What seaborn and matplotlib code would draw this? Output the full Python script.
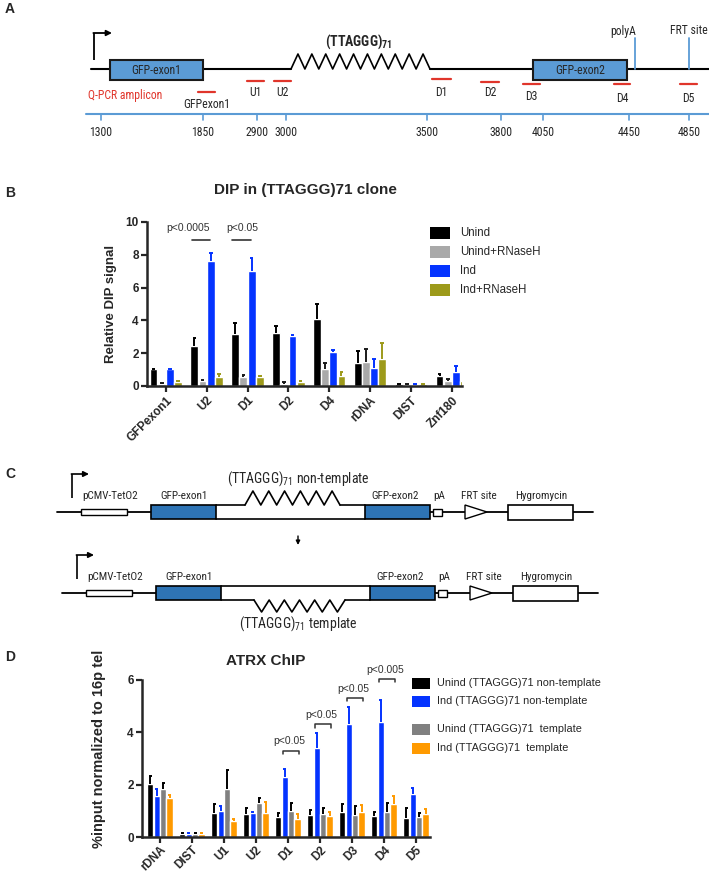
import matplotlib
matplotlib.use("Agg")
import matplotlib.pyplot as plt
from matplotlib import font_manager
from matplotlib.font_manager import FontProperties
from matplotlib.patches import Rectangle, Polygon
import numpy as np
import pandas as pd
import seaborn as sns

W, H = 709, 873

# ---------------- panel B : DIP in (TTAGGG)71 clone ----------------
DIP_SITES = ['GFPexon1', 'U2', 'D1', 'D2', 'D4', 'rDNA', 'DIST', 'Znf180']
DIP_GROUPS = ['Unind', 'Unind+RNaseH', 'Ind', 'Ind+RNaseH']
DIP_COLORS = ['#000000', '#a9a9a9', '#0433ff', '#9d9a1a']
DIP_ERR_COLORS = ['#000000', '#1a1a1a', '#0433ff', '#9d9a1a']
DIP_UNIND = [1.02, 2.45, 3.18, 3.25, 4.10, 1.40, 0.10, 0.60]
DIP_UNIND_SD = [0.02, 0.45, 0.67, 0.40, 0.90, 0.75, 0.02, 0.12]
DIP_UNIND_RH = [0.15, 0.30, 0.55, 0.12, 1.05, 1.45, 0.08, 0.30]
DIP_UNIND_RH_SD = [0.06, 0.05, 0.15, 0.13, 0.35, 0.80, 0.02, 0.15]
DIP_IND = [1.02, 7.62, 7.00, 3.05, 2.05, 1.07, 0.08, 0.85]
DIP_IND_SD = [0.02, 0.50, 0.80, 0.06, 0.12, 0.60, 0.02, 0.40]
DIP_IND_RH = [0.27, 0.57, 0.55, 0.27, 0.58, 1.65, 0.10, 0.30]
DIP_IND_RH_SD = [0.04, 0.15, 0.05, 0.04, 0.27, 0.97, 0.02, 0.20]
DIP_PVALS = ['p<0.0005', 'p<0.05']
DIP_PVAL_SITES = ['U2', 'D1']

# ---------------- panel D : ATRX ChIP ----------------
CHIP_SITES = ['rDNA', 'DIST', 'U1', 'U2', 'D1', 'D2', 'D3', 'D4', 'D5']
CHIP_GROUPS = ['Unind (TTAGGG)71 non-template', 'Ind (TTAGGG)71 non-template',
               'Unind (TTAGGG)71  template', 'Ind (TTAGGG)71  template']
CHIP_COLORS = ['#000000', '#0433ff', '#808080', '#ff9a00']
CHIP_ERR_COLORS = ['#000000', '#0433ff', '#000000', '#ff9a00']
CHIP_UNIND_NT = [2.02, 0.12, 0.93, 0.88, 0.75, 0.85, 0.95, 0.82, 0.74]
CHIP_UNIND_NT_SD = [0.30, 0.03, 0.34, 0.22, 0.15, 0.20, 0.30, 0.15, 0.38]
CHIP_IND_NT = [1.55, 0.13, 1.00, 0.90, 2.30, 3.40, 4.30, 4.40, 1.63]
CHIP_IND_NT_SD = [0.28, 0.02, 0.20, 0.07, 0.30, 0.57, 0.65, 0.83, 0.25]
CHIP_UNIND_T = [1.82, 0.10, 1.85, 1.30, 1.00, 0.87, 0.85, 0.95, 0.76]
CHIP_UNIND_T_SD = [0.23, 0.04, 0.72, 0.20, 0.30, 0.23, 0.35, 0.35, 0.17]
CHIP_IND_T = [1.50, 0.12, 0.62, 0.90, 0.70, 0.80, 0.95, 1.25, 0.87]
CHIP_IND_T_SD = [0.12, 0.02, 0.06, 0.43, 0.17, 0.17, 0.27, 0.33, 0.19]
CHIP_PVALS = ['p<0.05', 'p<0.05', 'p<0.05', 'p<0.005']
CHIP_PVAL_SITES = ['D1', 'D2', 'D3', 'D4']
CHIP_PVAL_LEVEL = [3.3, 4.3, 5.3, 6.03]

# ---------------- panel A : reporter map ----------------
MAP_TICKS = ['1300', '1850', '2900', '3000', '3500', '3800', '4050', '4450', '4850']
MAP_TICK_X = [101, 203, 257, 286, 427, 501, 543, 629, 689]
AMPLICONS = ['GFPexon1', 'U1', 'U2', 'D1', 'D2', 'D3', 'D4', 'D5']
AMP_X = [(198, 215), (247, 264), (274, 291), (432, 451), (481, 499), (523, 540), (614, 630), (680, 697)]
AMP_Y = [92, 81, 81, 79, 82, 84, 84, 84]
AMP_LABEL_Y = [105, 93, 93, 93, 93, 96, 98, 98]

sns.set_theme(style='ticks')
plt.rcParams['font.family'] = ['Liberation Sans', 'DejaVu Sans']


# condensed face for the schematic labels (Arial Narrow look), if one is installed
def find_narrow(bold):
    prefer = ['Liberation Sans Narrow', 'Roboto Condensed', 'DejaVu Sans Condensed',
              'Open Sans Condensed', 'Noto Sans', 'DejaVu Sans']
    found = {}
    for f in font_manager.fontManager.ttflist:
        narrow = ('Narrow' in f.name or 'Condensed' in f.name
                  or f.stretch in ('condensed', 'semi-condensed'))
        if not narrow or f.style != 'normal':
            continue
        w = f.weight if isinstance(f.weight, int) else (700 if 'bold' in str(f.weight) else 400)
        if (w >= 600) != bold:
            continue
        found.setdefault(f.name, f.fname)
    for p in prefer:
        if p in found:
            return found[p]
    return None


NARROW_FILE = find_narrow(False)
NARROW_BOLD_FILE = find_narrow(True)


def nfont(size, bold=False):
    fname = NARROW_BOLD_FILE if bold else NARROW_FILE
    if fname:
        return dict(fontproperties=FontProperties(fname=fname, size=size))
    return dict(family='Liberation Sans', fontsize=size * 0.92,
                fontweight='bold' if bold else 'normal')


fig = plt.figure(figsize=(W / 100, H / 100), dpi=100)
ov = fig.add_axes([0, 0, 1, 1])
ov.set_xlim(0, W)
ov.set_ylim(H, 0)
ov.axis('off')


def px_axes(left, top, right, bottom):
    ax = fig.add_axes([left / W, 1 - bottom / H, (right - left) / W, (bottom - top) / H])
    ax.set_facecolor('none')
    return ax


def arrow_right(x, y0, y1, x1, lw=1.3):
    ov.plot([x, x], [y0, y1], color='black', lw=lw, solid_capstyle='butt')
    ov.annotate('', xy=(x1, y1), xytext=(x - lw / 2, y1),
                arrowprops=dict(arrowstyle='-|>', color='black', lw=lw,
                                mutation_scale=8, shrinkA=0, shrinkB=0))


def zigzag(x0, x1, base, tip, n):
    xs = np.linspace(x0, x1, 2 * n + 1)
    ys = [base if i % 2 == 0 else tip for i in range(2 * n + 1)]
    ov.plot(xs, ys, color='black', lw=1.2, zorder=4)


# ======================= panel A =======================
ov.text(5, 9, 'A', fontsize=10, fontweight='bold', va='center')
LINE_Y = 69
ov.plot([91, 291], [LINE_Y] * 2, color='black', lw=1.5)
ov.plot([430, 709], [LINE_Y] * 2, color='black', lw=1.5)
zigzag(291, 430, LINE_Y, 54, 10)
arrow_right(94, 60, 33, 112)
for x0, x1, lab in [(110, 203, 'GFP-exon1'), (533, 627, 'GFP-exon2')]:
    ov.add_patch(Rectangle((x0, 60), x1 - x0, 20, fc='#5b9bd5', ec='#1a1a1a', lw=1.5, zorder=3))
    ov.text((x0 + x1) / 2, 70, lab, ha='center', va='center', zorder=5, **nfont(8.5))
ov.text(359, 42, r'(TTAGGG)$\mathregular{_{71}}$', ha='center', va='center', **nfont(10, True))
for x in [635, 689]:
    ov.plot([x, x], [38, LINE_Y], color='#5b9bd5', lw=1.3)
for x, lab in [(623, 'polyA'), (689, 'FRT site')]:
    ov.text(x, 31, lab, ha='center', va='center', **nfont(8.5))
for (x0, x1), y, ly, lab in zip(AMP_X, AMP_Y, AMP_LABEL_Y, AMPLICONS):
    ov.plot([x0, x1], [y, y], color='#e0352b', lw=1.6)
    ov.text((x0 + x1) / 2, ly, lab, ha='center', va='center', **nfont(8.5))
ov.text(125, 96, 'Q-PCR amplicon', color='#e0352b', ha='center', va='center', **nfont(8.5))
ov.plot([86, 709], [114, 114], color='#5b9bd5', lw=1.5)
for x, lab in zip(MAP_TICK_X, MAP_TICKS):
    ov.plot([x, x], [114, 120], color='#5b9bd5', lw=1.2)
    ov.text(x, 132, lab, ha='center', va='center', **nfont(8.5))


# ======================= bar chart helper =======================
def bar_panel(ax, sites, groups, values, errors, colors, err_colors, cap):
    rows = []
    for g, vals in zip(groups, values):
        for s, v in zip(sites, vals):
            rows.append({'site': s, 'group': g, 'value': v})
    df = pd.DataFrame(rows)
    sns.barplot(data=df, x='site', y='value', hue='group', order=sites, hue_order=groups,
                palette=colors, saturation=1, errorbar=None, width=0.8, gap=0.04,
                legend=False, ax=ax)
    for cont, errs, ec in zip(ax.containers, errors, err_colors):
        for bar, e in zip(cont, errs):
            x = bar.get_x() + bar.get_width() / 2
            top = bar.get_height() + e
            ax.vlines(x, bar.get_height(), top, color=ec, lw=1.4, zorder=3)
            ax.hlines(top, x - cap, x + cap, color=ec, lw=1.4, zorder=3)
    sns.despine(ax=ax)
    for sp in ['left', 'bottom']:
        ax.spines[sp].set_linewidth(1.8)
    ax.tick_params(axis='both', width=1.6, length=4, direction='out', pad=2)
    ax.set_xlabel('')
    for lab in ax.get_yticklabels():
        lab.set_fontweight('bold')
    ax.set_xticks(range(len(sites)))
    ax.set_xticklabels(sites, rotation=45, ha='right', va='top', rotation_mode='anchor',
                       fontweight='bold')


# ======================= panel B =======================
ov.text(5, 193, 'B', fontsize=10, fontweight='bold', va='center')
ov.text(305, 190, 'DIP in (TTAGGG)71 clone', fontsize=11, fontweight='bold',
        ha='center', va='center')
axB = px_axes(147, 222, 462, 386)
bar_panel(axB, DIP_SITES, DIP_GROUPS,
          [DIP_UNIND, DIP_UNIND_RH, DIP_IND, DIP_IND_RH],
          [DIP_UNIND_SD, DIP_UNIND_RH_SD, DIP_IND_SD, DIP_IND_RH_SD],
          DIP_COLORS, DIP_ERR_COLORS, cap=0.045)
axB.set_ylim(0, 10)
axB.set_yticks([0, 2, 4, 6, 8, 10])
axB.set_xlim(-0.46, 7.25)
axB.tick_params(labelsize=8.5)
axB.set_ylabel('Relative DIP signal', fontsize=9.5, fontweight='bold', labelpad=6)
for site, txt, tx in zip(DIP_PVAL_SITES, DIP_PVALS, [-0.46, -0.12]):
    i = DIP_SITES.index(site)
    axB.plot([i - 0.37, i + 0.08], [8.9, 8.9], color='#333333', lw=1.2, clip_on=False)
    axB.text(i + tx, 9.65, txt, fontsize=7.5, color='#333333', ha='center', va='center')
for k, (g, c) in enumerate(zip(DIP_GROUPS, DIP_COLORS)):
    y = 233 + 19 * k
    ov.add_patch(Rectangle((430, y - 6), 20, 12, fc=c, ec='none'))
    ov.text(460, y, g, fontsize=8.3, ha='left', va='center')

# ======================= panel C =======================
ov.text(5, 474, 'C', fontsize=10, fontweight='bold', va='center')


def construct(dx, ly, top, bot, zig_up):
    ov.plot([57 + dx, 593 + dx], [ly, ly], color='black', lw=1.3, zorder=1)
    ov.add_patch(Rectangle((81 + dx, ly - 3), 46, 6, fc='white', ec='black', lw=1.0, zorder=2))
    ov.add_patch(Rectangle((151 + dx, top), 65, bot - top, fc='#2e74b5', ec='black', lw=1.2, zorder=3))
    ov.add_patch(Rectangle((365 + dx, top), 65, bot - top, fc='#2e74b5', ec='black', lw=1.2, zorder=3))
    # middle intron: white box whose top (or bottom) edge carries the repeat
    ov.add_patch(Rectangle((216 + dx, top), 149, bot - top, fc='white', ec='none', zorder=2))
    if zig_up:
        ov.plot([216 + dx, 245 + dx], [top, top], color='black', lw=1.2, zorder=4)
        ov.plot([340 + dx, 365 + dx], [top, top], color='black', lw=1.2, zorder=4)
        zigzag(245 + dx, 340 + dx, top, top - 14, 6)
        ov.plot([216 + dx, 365 + dx], [bot, bot], color='black', lw=1.2, zorder=4)
    else:
        ov.plot([216 + dx, 365 + dx], [top, top], color='black', lw=1.2, zorder=4)
        ov.plot([216 + dx, 249 + dx], [bot, bot], color='black', lw=1.2, zorder=4)
        ov.plot([340 + dx, 365 + dx], [bot, bot], color='black', lw=1.2, zorder=4)
        zigzag(249 + dx, 340 + dx, bot, bot + 12, 6)
    ov.add_patch(Rectangle((433 + dx, ly - 3.5), 9, 7, fc='white', ec='black', lw=1.0, zorder=2))
    ov.add_patch(Polygon([(465 + dx, ly - 7), (465 + dx, ly + 7), (487 + dx, ly)], closed=True,
                         fc='white', ec='black', lw=1.0, zorder=2))
    ov.add_patch(Rectangle((508 + dx, ly - 7.5), 65, 15, fc='white', ec='black', lw=1.2, zorder=2))
    arrow_right(72 + dx, top - 7, top - 31, 89 + dx, lw=1.2)
    lab_y = top - 9
    for x, lab in [(110, 'pCMV-TetO2'), (184, 'GFP-exon1'), (395, 'GFP-exon2'),
                   (439, 'pA'), (479, 'FRT site'), (541, 'Hygromycin')]:
        ov.text(x + dx, lab_y, lab, ha='center', va='center', **nfont(8))


construct(0, 512, 505, 519, True)
ov.text(298, 479, r'(TTAGGG)$\mathregular{_{71}}$ non-template', ha='center', va='center',
        **nfont(10))
ov.annotate('', xy=(298, 545), xytext=(298, 536),
            arrowprops=dict(arrowstyle='-|>', color='black', lw=1.0, mutation_scale=6,
                            shrinkA=0, shrinkB=0))
construct(5, 593, 586, 600, False)
ov.text(298, 624, r'(TTAGGG)$\mathregular{_{71}}$ template', ha='center', va='center',
        **nfont(10))

# ======================= panel D =======================
ov.text(5, 657, 'D', fontsize=10, fontweight='bold', va='center')
ov.text(266, 661, 'ATRX ChIP', fontsize=11, fontweight='bold', ha='center', va='center')
axD = px_axes(142, 680, 430, 837)
bar_panel(axD, CHIP_SITES, CHIP_GROUPS,
          [CHIP_UNIND_NT, CHIP_IND_NT, CHIP_UNIND_T, CHIP_IND_T],
          [CHIP_UNIND_NT_SD, CHIP_IND_NT_SD, CHIP_UNIND_T_SD, CHIP_IND_T_SD],
          CHIP_COLORS, CHIP_ERR_COLORS, cap=0.05)
axD.set_ylim(0, 6)
axD.set_yticks([0, 2, 4, 6])
axD.set_xlim(-0.56, 8.44)
axD.tick_params(labelsize=8.5)
axD.tick_params(axis='x', pad=1)
axD.set_ylabel('%input normalized to 16p tel', fontsize=10.5, fontweight='bold')
axD.yaxis.set_label_coords(-0.125, 0.56)
for site, txt, lvl in zip(CHIP_PVAL_SITES, CHIP_PVALS, CHIP_PVAL_LEVEL):
    i = CHIP_SITES.index(site)
    axD.plot([i - 0.15, i - 0.15, i + 0.35, i + 0.35], [lvl - 0.12, lvl, lvl, lvl - 0.12],
             color='#333333', lw=1.1, clip_on=False)
    axD.text(i + 0.05, lvl + 0.36, txt, fontsize=7.5, color='#333333', ha='center', va='center')
for k, (g, c, y) in enumerate(zip(CHIP_GROUPS, CHIP_COLORS, [683, 701, 729, 748])):
    ov.add_patch(Rectangle((412, y - 5.5), 18, 11, fc=c, ec='none'))
    ov.text(437, y, g, fontsize=7.8, ha='left', va='center')

fig.savefig('out.png', dpi=100)
